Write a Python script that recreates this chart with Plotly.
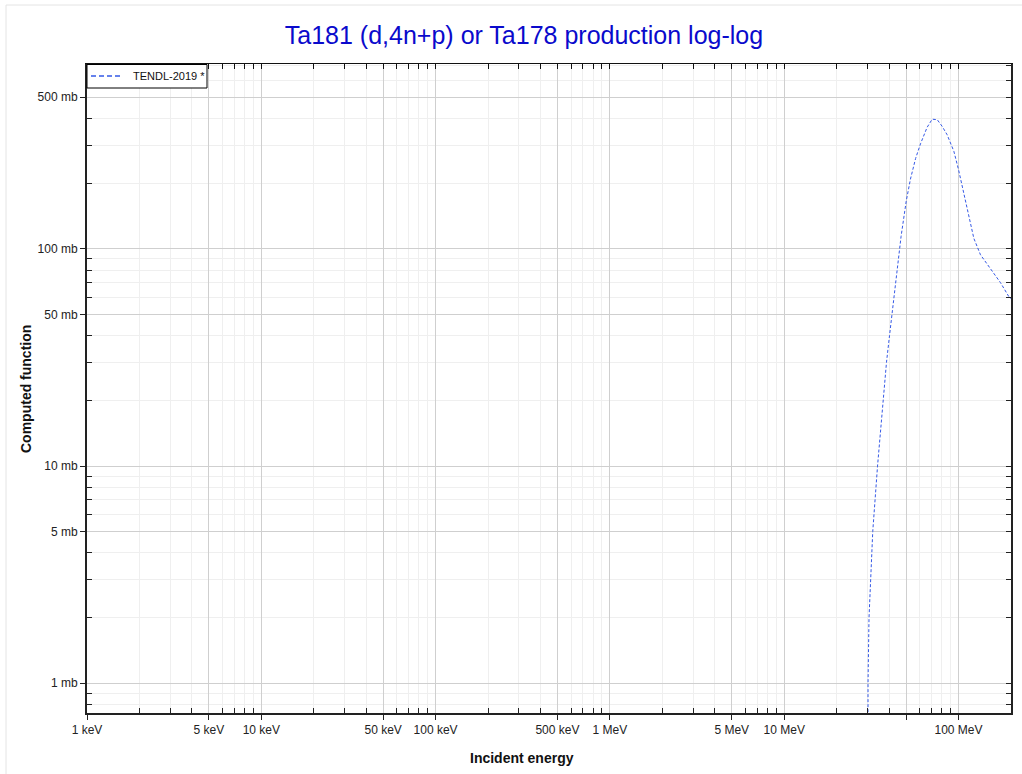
import plotly.graph_objects as go

# ---- data ----
energy_mev = [30.2, 30.25, 30.65, 31.2, 32.2, 34.3, 36.9, 38.6, 40.2, 42.7, 46.8, 50.1,
              53.0, 56.7, 60.5, 66.0, 70.6, 75.5, 80.6, 86.0, 94.0, 100.0, 107.0,
              114.5, 122.4, 133.7, 146.0, 159.5, 174.0, 194.0, 200.0]
xs_mb = [0.02, 1.0, 2.0, 3.0, 5.0, 10.0, 20.0, 30.0, 40.0, 60.0, 114.0, 166.0,
         210.0, 261.0, 305.0, 363.0, 396.0, 394.0, 367.0, 336.0, 282.0, 232.0, 181.0,
         141.0, 112.0, 94.0, 85.0, 77.5, 70.0, 60.5, 59.0]
series_name = "TENDL-2019 *"

x_tickvals = [1e-3, 5e-3, 1e-2, 5e-2, 0.1, 0.5, 1, 5, 10, 50, 100]
x_ticktext = ["1 keV", "5 keV", "10 keV", "50 keV", "100 keV", "500 keV",
              "1 MeV", "5 MeV", "10 MeV", "", "100 MeV"]
y_tickvals = [1, 5, 10, 50, 100, 500]
y_ticktext = ["1 mb", "5 mb", "10 mb", "50 mb", "100 mb", "500 mb"]

title_text = "Ta181 (d,4n+p) or Ta178 production log-log"
x_title = "Incident energy"
y_title = "Computed function"

# minor positions (2,3,4,6,7,8,9 per decade)
def minors(lo_exp, hi_exp, digits=(2, 3, 4, 6, 7, 8, 9)):
    out = []
    for e in range(lo_exp, hi_exp + 1):
        for d in digits:
            out.append(d * 10.0 ** e)
    return out

x_minor = [v for v in minors(-3, 2) if v <= 200]
y_minor = [v for v in minors(-1, 2) if 0.7 <= v <= 720]
x_all = sorted(set(x_minor + x_tickvals + [200]))
y_all = sorted(set(y_minor + y_tickvals))

XR = [-3, 2.30103]
YR = [-0.137, 2.852]
FONT = "Liberation Sans, Arial, sans-serif"
LINE_BLUE = "#3559e6"

# plot-area pixel geometry helpers (for legend box / frame / titles)
L, R, T, B = 87, 1011, 64, 713
def px(xp):
    return (xp - L) / (R - L)
def py(yp):
    return (B - yp) / (B - T)

fig = go.Figure()
fig.add_trace(go.Scatter(
    x=energy_mev, y=xs_mb, mode="lines", name=series_name, showlegend=False,
    line=dict(color=LINE_BLUE, width=1, dash="3px,2px"),
))
# dummy trace for mirror axes
fig.add_trace(go.Scatter(x=[None], y=[None], xaxis="x2", yaxis="y2",
                         showlegend=False, hoverinfo="skip"))

fig.update_layout(
    width=1022, height=774,
    margin=dict(l=L, r=1022 - R, t=T, b=774 - B),
    paper_bgcolor="white", plot_bgcolor="white",
    font=dict(family=FONT, size=12, color="#222"),
    title=dict(text=title_text, x=524 / 1022, xref="container", y=1 - 35 / 774,
               yref="container", xanchor="center", yanchor="middle",
               font=dict(family=FONT, size=25, color="#0a0acc")),
    showlegend=False,
    xaxis=dict(
        type="log", range=XR, tickmode="array", tickvals=x_tickvals,
        ticktext=x_ticktext, ticks="outside", ticklen=5, tickcolor="#222",
        showgrid=True, gridcolor="#cfcfcf", gridwidth=1,
        showline=True, linecolor="#222", linewidth=2, zeroline=False,
        tickfont=dict(family=FONT, size=12, color="#222"),
        minor=dict(tickmode="array", tickvals=x_minor, ticks="inside",
                   ticklen=5, tickcolor="#222", showgrid=True,
                   gridcolor="#efefef", gridwidth=1),
    ),
    yaxis=dict(
        type="log", range=YR, tickmode="array", tickvals=y_tickvals,
        ticktext=y_ticktext, ticks="outside", ticklen=5, tickcolor="#222",
        showgrid=True, gridcolor="#cfcfcf", gridwidth=1,
        showline=True, linecolor="#222", linewidth=2, zeroline=False,
        tickfont=dict(family=FONT, size=12, color="#222"),
        minor=dict(tickmode="array", tickvals=y_minor, ticks="inside",
                   ticklen=5, tickcolor="#222", showgrid=True,
                   gridcolor="#efefef", gridwidth=1),
    ),
    xaxis2=dict(
        type="log", range=XR, overlaying="x", side="top", anchor="y",
        tickmode="array", tickvals=x_all, ticks="inside", ticklen=5,
        tickcolor="#111", showticklabels=False, showgrid=False,
        showline=True, linecolor="#111", linewidth=1, zeroline=False,
    ),
    yaxis2=dict(
        type="log", range=YR, overlaying="y", side="right", anchor="x",
        tickmode="array", tickvals=y_all, ticks="inside", ticklen=5,
        tickcolor="#222", showticklabels=False, showgrid=False,
        showline=True, linecolor="#222", linewidth=2, zeroline=False,
    ),
)

# axis titles as annotations
fig.add_annotation(text=f"<b>{x_title}</b>", xref="paper", yref="paper",
                   x=px(522), y=py(758), showarrow=False,
                   xanchor="center", yanchor="middle",
                   font=dict(family=FONT, size=14, color="#111"))
fig.add_annotation(text=f"<b>{y_title}</b>", xref="paper", yref="paper",
                   x=px(26), y=py(389), showarrow=False,
                   textangle=-90, xanchor="center", yanchor="middle",
                   font=dict(family=FONT, size=14, color="#111"))

# light outer frame
fig.add_shape(type="rect", xref="paper", yref="paper",
              x0=px(6), x1=px(1030), y0=py(780), y1=py(5),
              line=dict(color="#e4e4e4", width=1), fillcolor="rgba(0,0,0,0)",
              layer="below")

# legend box (drawn manually for exact size)
fig.add_shape(type="rect", xref="paper", yref="paper",
              x0=px(87), x1=px(207), y0=py(88), y1=py(64.5),
              line=dict(color="black", width=1), fillcolor="white", layer="above")
fig.add_shape(type="line", xref="paper", yref="paper",
              x0=px(91), x1=px(121), y0=py(76), y1=py(76),
              line=dict(color=LINE_BLUE, width=1.5, dash="5px,3px"), layer="above")
fig.add_annotation(text=series_name, xref="paper", yref="paper",
                   x=px(131), y=py(76), showarrow=False,
                   xanchor="left", yanchor="middle",
                   font=dict(family=FONT, size=11, color="#111"))

fig.write_html(
    "out.html",
    config={"displayModeBar": False},
    post_script="document.body.style.margin='0';document.body.style.overflow='hidden';",
)
